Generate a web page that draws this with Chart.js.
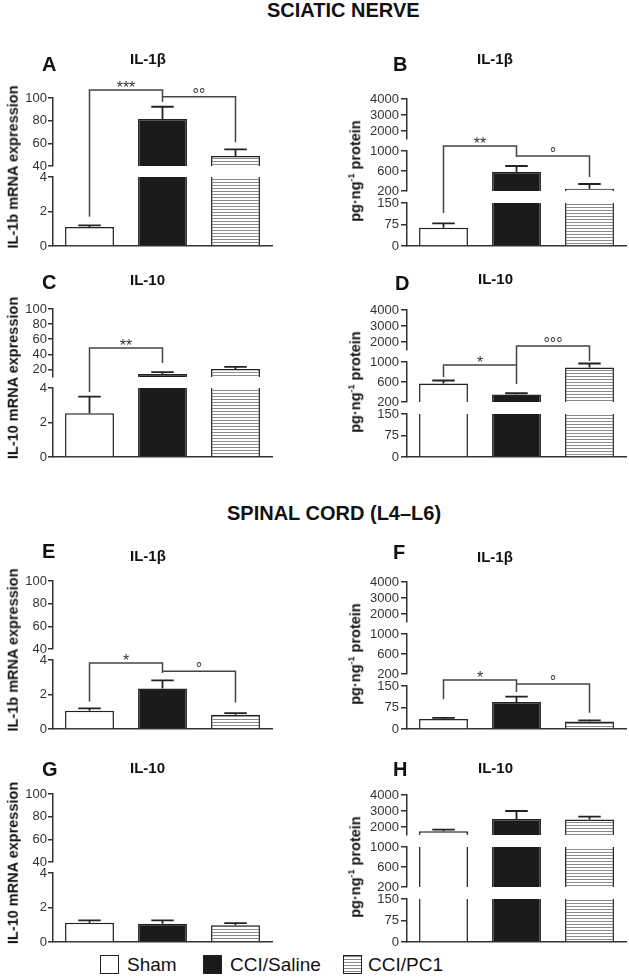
<!DOCTYPE html>
<html>
<head>
<meta charset="utf-8">
<script src="https://cdn.jsdelivr.net/npm/chart.js@4.4.0/dist/chart.umd.min.js"></script>
<style>
  body { margin: 0; background: #fff; }
  #fig { position: relative; width: 629px; height: 978px; overflow: hidden;
         font-family: "Liberation Sans", Arial, sans-serif; color: #111; }
  .t { position: absolute; white-space: nowrap; line-height: 1; }
  .hdr { font-weight: bold; font-size: 20px; }
  .let { font-weight: bold; font-size: 20px; }
  .ttl { font-weight: bold; font-size: 15px; }
  .yt { font-weight: bold; font-size: 14.5px; transform: translate(-50%, -50%) rotate(-90deg); }
  .yt sup { font-size: 9px; vertical-align: 6px; }
  .leg { font-size: 19px; }
  .sw { position: absolute; width: 19px; height: 19px; box-sizing: border-box; border: 1.5px solid #222; }
  canvas { position: absolute; }
</style>
</head>
<body>
<div id="fig"></div>
<script>
// groups (x categories)
const groups = ['Sham', 'CCI/Saline', 'CCI/PC1'];

// tick labels of the broken y axes
const mrnaTicksHigh = [40, 60, 80, 100];
const mrnaTicksHighC = [20, 40, 60, 80, 100];
const mrnaTicksLow = [0, 2, 4];
const protTicksHigh = [2000, 3000, 4000];
const protTicksMid = [200, 600, 1000];
const protTicksLow = [0, 75, 150];

// sciatic nerve
const nerveIl1bMrna = [1.1, 81.5, 48.8];
const nerveIl1bMrnaErr = [1.2, 92.3, 54.7];
const nerveIl1bProt = [64, 586, 246];
const nerveIl1bProtErr = [79, 700, 340];
const nerveIl10Mrna = [2.53, 14, 20.5];
const nerveIl10MrnaErr = [3.5, 16.5, 23.5];
const nerveIl10Prot = [570, 350, 890];
const nerveIl10ProtErr = [630, 375, 970];

// spinal cord
const cordIl1bMrna = [1.06, 2.35, 0.82];
const cordIl1bMrnaErr = [1.2, 2.82, 0.92];
const cordIl1bProt = [35, 94, 26];
const cordIl1bProtErr = [39, 113, 30];
const cordIl10Mrna = [1.12, 1.06, 0.97];
const cordIl10MrnaErr = [1.25, 1.25, 1.1];
const cordIl10Prot = [1730, 2500, 2470];
const cordIl10ProtErr = [1830, 3000, 2650];

// significance brackets: from group a to group b, values on the y axis
const bracketsA = [
  { a: 0, b: 1, ya: 1.7, level: 107, yb: 96.5, text: '***' },
  { a: 1, b: 2, ya: 101, level: 101, yb: 61, text: '°°' }
];
const bracketsB = [
  { a: 0, b: 1, ya: 115, level: 1100, yb: 880, text: '**' },
  { a: 1, b: 2, ya: 900, level: 900, yb: 480, text: '°' }
];
const bracketsC = [
  { a: 0, b: 1, ya: 3.77, level: 48.4, yb: 28.5, text: '**' }
];
const bracketsD = [
  { a: 0, b: 1, ya: 700, level: 940, yb: 940, text: '*' },
  { a: 1, b: 2, ya: 560, level: 1320, yb: 1020, text: '°°°' }
];
const bracketsE = [
  { a: 0, b: 1, ya: 1.6, level: 3.82, yb: 3.24, text: '*' },
  { a: 1, b: 2, ya: 3.35, level: 3.35, yb: 1.53, text: '°' }
];
const bracketsF = [
  { a: 0, b: 1, ya: 104, level: 171, yb: 129, text: '*' },
  { a: 1, b: 2, ya: 157, level: 157, yb: 57, text: '°' }
];

const FONT = '"Liberation Sans", Arial, sans-serif';
const fig = document.getElementById('fig');

function mrnaSegs(high) {
  return [
    { min: high[0] === 20 ? 10 : 40, max: 100, ticks: high, h: 68 },
    { gap: 11 },
    { min: 0, max: 4, ticks: mrnaTicksLow, h: 69 }
  ];
}
function protSegs() {
  return [
    { min: 1500, max: 4000, ticks: protTicksHigh, h: 40 },
    { gap: 12 },
    { min: 200, max: 1000, ticks: protTicksMid, h: 40 },
    { gap: 12 },
    { min: 0, max: 150, ticks: protTicksLow, h: 43 }
  ];
}

// striped fill for CCI/PC1
function stripes() {
  const p = document.createElement('canvas');
  p.width = 4; p.height = 3;
  const g = p.getContext('2d');
  g.fillStyle = '#fff'; g.fillRect(0, 0, 4, 3);
  g.fillStyle = '#8a8a8a'; g.fillRect(0, 0, 4, 1);
  return g.createPattern(p, 'repeat');
}
const stripeFill = stripes();
const fills = ['#ffffff', '#1b1b1b', stripeFill];

function addText(cls, txt, left, top, html) {
  const d = document.createElement('div');
  d.className = 't ' + cls;
  if (html) d.innerHTML = txt; else d.textContent = txt;
  d.style.left = left + 'px';
  d.style.top = top + 'px';
  fig.appendChild(d);
  return d;
}

function makePanel(p) {
  const right = p.side === 'right';
  const cLeft = right ? 360 : 20;
  const cWidth = right ? 268 : 262;
  const yWidth = right ? 47 : 33;
  const padRight = right ? 2 : 10;
  const tickLen = right ? 6 : 5;
  const total = p.segs.reduce((s, g) => s + (g.gap || g.h), 0);
  const cTop = p.plotTop - 30;

  const canvas = document.createElement('canvas');
  canvas.width = cWidth;
  canvas.height = 30 + total + 10;
  canvas.style.left = cLeft + 'px';
  canvas.style.top = cTop + 'px';
  fig.appendChild(canvas);

  const scales = {
    x: {
      type: 'category', offset: true,
      grid: { display: false },
      ticks: { display: false },
      border: { display: true, color: '#333', width: 1.5 },
      afterFit: s => { s.height = 0; }
    }
  };
  const datasets = [];
  p.segs.forEach((sg, i) => {
    const id = 'y' + i;
    const base = { type: 'linear', position: 'left', axis: 'y', stack: 'brk',
                   stackWeight: sg.gap || sg.h, weight: p.segs.length - i };
    if (sg.gap) {
      scales[id] = Object.assign(base, { display: false, min: 0, max: 1 });
      return;
    }
    scales[id] = Object.assign(base, {
      min: sg.min, max: sg.max,
      afterBuildTicks: s => { s.ticks = sg.ticks.map(v => ({ value: v })); },
      afterFit: s => { s.width = yWidth; },
      grid: { display: true, drawOnChartArea: false, drawTicks: true, tickLength: tickLen,
              color: '#333', lineWidth: 1.5 },
      border: { display: true, color: '#333', width: 1.5 },
      ticks: { padding: right ? 2 : 1, color: '#333', autoSkip: false,
               font: { family: FONT, size: 13 },
               callback: v => String(v) }
    });
    datasets.push({
      yAxisID: id,
      data: p.values.map(v => v >= sg.min ? [sg.min, Math.min(v, sg.max)] : null),
      backgroundColor: fills,
      borderColor: '#222',
      borderSkipped: false,
      borderWidth: ctx => {
        const r = ctx.raw;
        const top = r && r[1] === p.values[ctx.dataIndex] ? 1.5 : 0;
        return { top: top, left: 1.5, right: 1.5, bottom: 0 };
      },
      grouped: false,
      barPercentage: 0.67,
      categoryPercentage: 1
    });
  });

  // pick the segment holding a value (values above a segment extrapolate from it)
  function yPix(chart, v) {
    for (let i = 0; i < p.segs.length; i++) {
      const sg = p.segs[i];
      if (!sg.gap && v >= sg.min) return chart.scales['y' + i].getPixelForValue(v);
    }
    return chart.scales['y' + (p.segs.length - 1)].getPixelForValue(v);
  }

  const marks = {
    id: 'marks',
    afterDatasetsDraw(chart) {
      const c = chart.ctx;
      const xs = chart.scales.x;
      const step = xs.getPixelForValue(1) - xs.getPixelForValue(0);
      const cap = step * 0.67 * 0.23;
      c.save();
      // error bars (upper only)
      c.strokeStyle = '#222';
      c.lineWidth = 1.8;
      p.values.forEach((v, i) => {
        const x = xs.getPixelForValue(i);
        const y0 = yPix(chart, v);
        const y1 = yPix(chart, p.errors[i]);
        c.beginPath();
        c.moveTo(x, y0); c.lineTo(x, y1);
        c.moveTo(x - cap, y1); c.lineTo(x + cap, y1);
        c.stroke();
      });
      // significance brackets
      c.strokeStyle = '#444';
      c.lineWidth = 1.5;
      c.fillStyle = '#333';
      c.font = '16px ' + FONT;
      c.textAlign = 'center';
      c.textBaseline = 'alphabetic';
      (p.brackets || []).forEach(b => {
        const xa = xs.getPixelForValue(b.a);
        const xb = xs.getPixelForValue(b.b);
        const yl = yPix(chart, b.level);
        c.beginPath();
        c.moveTo(xa, yPix(chart, b.ya));
        c.lineTo(xa, yl);
        c.lineTo(xb, yl);
        c.lineTo(xb, yPix(chart, b.yb));
        c.stroke();
        c.fillText(b.text, (xa + xb) / 2, yl + 3);
      });
      c.restore();
    }
  };

  new Chart(canvas.getContext('2d'), {
    type: 'bar',
    data: { labels: groups, datasets: datasets },
    options: {
      responsive: false,
      animation: false,
      devicePixelRatio: 1,
      events: [],
      layout: { padding: { top: 30, bottom: 10, left: 0, right: padRight } },
      scales: scales,
      plugins: { legend: { display: false }, tooltip: { enabled: false } }
    },
    plugins: [marks]
  });

  // panel letter, cytokine title, y-axis title
  addText('let', p.letter, p.letterX, p.letterTop);
  addText('ttl', p.title, p.titleX, p.titleTop);
  const cy = p.plotTop + total / 2;
  if (right) {
    addText('yt', 'pg·ng<sup>-1</sup> protein', 355, cy - 2, true);
  } else {
    addText('yt', p.yTitle, 13, cy - 5);
  }
}

addText('hdr', 'SCIATIC NERVE', 267, 0);
addText('hdr', 'SPINAL CORD (L4–L6)', 227, 503);

makePanel({ side: 'left', plotTop: 98, segs: mrnaSegs(mrnaTicksHigh), values: nerveIl1bMrna,
  errors: nerveIl1bMrnaErr, brackets: bracketsA, letter: 'A', letterX: 42, letterTop: 54,
  title: 'IL-1β', titleX: 130, titleTop: 51, yTitle: 'IL-1b mRNA expression' });
makePanel({ side: 'right', plotTop: 99, segs: protSegs(), values: nerveIl1bProt,
  errors: nerveIl1bProtErr, brackets: bracketsB, letter: 'B', letterX: 393, letterTop: 54,
  title: 'IL-1β', titleX: 477, titleTop: 51 });
makePanel({ side: 'left', plotTop: 309, segs: mrnaSegs(mrnaTicksHighC), values: nerveIl10Mrna,
  errors: nerveIl10MrnaErr, brackets: bracketsC, letter: 'C', letterX: 42, letterTop: 272,
  title: 'IL-10', titleX: 130, titleTop: 272, yTitle: 'IL-10 mRNA expression' });
makePanel({ side: 'right', plotTop: 310, segs: protSegs(), values: nerveIl10Prot,
  errors: nerveIl10ProtErr, brackets: bracketsD, letter: 'D', letterX: 395, letterTop: 273,
  title: 'IL-10', titleX: 478, titleTop: 271 });
makePanel({ side: 'left', plotTop: 581, segs: mrnaSegs(mrnaTicksHigh), values: cordIl1bMrna,
  errors: cordIl1bMrnaErr, brackets: bracketsE, letter: 'E', letterX: 42, letterTop: 541,
  title: 'IL-1β', titleX: 130, titleTop: 548, yTitle: 'IL-1b mRNA expression' });
makePanel({ side: 'right', plotTop: 582, segs: protSegs(), values: cordIl1bProt,
  errors: cordIl1bProtErr, brackets: bracketsF, letter: 'F', letterX: 393, letterTop: 542,
  title: 'IL-1β', titleX: 477, titleTop: 549 });
makePanel({ side: 'left', plotTop: 794, segs: mrnaSegs(mrnaTicksHigh), values: cordIl10Mrna,
  errors: cordIl10MrnaErr, letter: 'G', letterX: 42, letterTop: 759,
  title: 'IL-10', titleX: 130, titleTop: 760, yTitle: 'IL-10 mRNA expression' });
makePanel({ side: 'right', plotTop: 795, segs: protSegs(), values: cordIl10Prot,
  errors: cordIl10ProtErr, letter: 'H', letterX: 393, letterTop: 759,
  title: 'IL-10', titleX: 478, titleTop: 760 });

// legend
const legendItems = [
  { x: 100, tx: 127, bg: '#fff' },
  { x: 203, tx: 230, bg: '#1b1b1b' },
  { x: 343, tx: 368, bg: 'repeating-linear-gradient(to bottom, #8a8a8a 0 1px, #fff 1px 3px)' }
];
legendItems.forEach((it, i) => {
  const s = document.createElement('div');
  s.className = 'sw';
  s.style.left = it.x + 'px';
  s.style.top = '955px';
  s.style.background = it.bg;
  fig.appendChild(s);
  addText('leg', groups[i], it.tx, 955);
});
</script>
